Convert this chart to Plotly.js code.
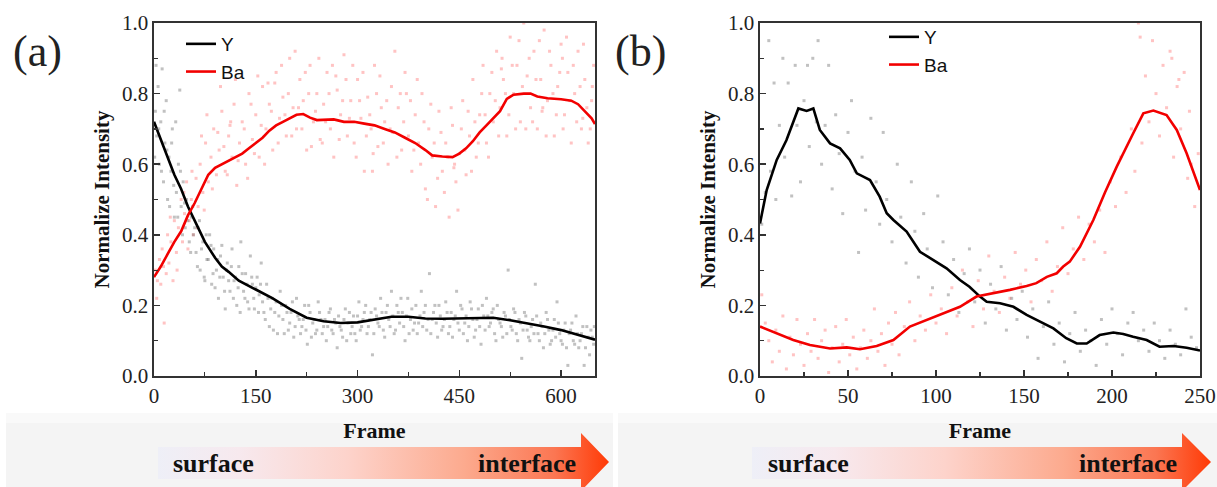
<!DOCTYPE html>
<html>
<head>
<meta charset="utf-8">
<script src="https://cdn.plot.ly/plotly-3.0.1.min.js"></script>
<style>html,body{margin:0;padding:0;background:#fff;}#chart{width:1217px;height:487px;}</style>
</head>
<body>
<div id="chart"></div>
<script>
// ---------- Panel (a) smoothed lines ----------
const aYx = [0,10,20,30,40,50,60,75,90,100,110,125,150,175,200,225,250,275,300,325,350,375,400,425,450,475,500,525,550,575,600,625,650];
const aYy = [0.72,0.67,0.62,0.57,0.53,0.48,0.44,0.38,0.335,0.31,0.295,0.27,0.245,0.22,0.19,0.165,0.155,0.15,0.152,0.16,0.168,0.168,0.163,0.162,0.163,0.165,0.165,0.158,0.15,0.14,0.13,0.117,0.103];
const aBax = [0,10,20,30,40,50,60,70,80,90,100,110,120,130,140,150,160,170,180,190,200,210,220,230,240,250,265,280,295,310,325,340,355,370,385,400,410,425,440,450,460,470,480,490,500,510,520,530,545,555,565,580,600,615,625,635,645,650];
const aBay = [0.28,0.31,0.345,0.38,0.41,0.455,0.49,0.53,0.57,0.59,0.60,0.61,0.62,0.63,0.645,0.66,0.675,0.695,0.71,0.72,0.73,0.74,0.742,0.732,0.725,0.725,0.727,0.72,0.72,0.715,0.71,0.70,0.69,0.675,0.66,0.64,0.625,0.622,0.62,0.63,0.645,0.665,0.69,0.71,0.73,0.75,0.785,0.797,0.80,0.80,0.792,0.787,0.784,0.78,0.77,0.75,0.73,0.714];

// ---------- Panel (a) raw points ----------
const aRawBaX = [2,5,8,10,12,15,18,20,22,25,28,30,33,36,40,42,45,48,52,55,58,62,65,68,72,76,80,84,88,92,96,100,105,110,115,118,122,126,130,135,140,145,150,155,160,165,170,175,180,185,190,195,200,205,210,215,220,225,230,235,240,245,250,255,260,265,270,275,280,285,290,295,300,305,310,315,320,325,330,335,340,345,350,355,360,365,370,375,380,385,390,395,400,405,410,415,420,425,430,435,440,445,450,455,460,465,470,475,480,485,490,495,500,505,510,515,520,525,530,535,540,545,550,555,560,565,570,575,580,585,590,595,600,605,610,615,620,625,630,635,640,645,648,112,178,232,268,322,352,372,442,478,512,548,572,602,632];
const aRawBaY = [0.30,0.27,0.33,0.26,0.36,0.15,0.29,0.40,0.32,0.38,0.27,0.44,0.35,0.42,0.50,0.38,0.46,0.55,0.44,0.50,0.40,0.56,0.48,0.60,0.52,0.66,0.55,0.62,0.70,0.57,0.64,0.75,0.58,0.68,0.62,0.77,0.54,0.66,0.72,0.60,0.80,0.67,0.74,0.62,0.82,0.70,0.77,0.64,0.86,0.73,0.79,0.68,0.90,0.76,0.70,0.84,0.78,0.64,0.88,0.72,0.80,0.67,0.77,0.86,0.70,0.62,0.81,0.74,0.91,0.68,0.78,0.66,0.84,0.73,0.58,0.79,0.70,0.88,0.65,0.76,0.72,0.60,0.82,0.92,0.76,0.64,0.86,0.68,0.58,0.74,0.66,0.80,0.53,0.70,0.62,0.48,0.75,0.58,0.66,0.45,0.71,0.55,0.63,0.78,0.57,0.68,0.84,0.62,0.74,0.88,0.66,0.80,0.72,0.92,0.76,0.84,0.68,0.96,0.80,0.88,0.72,1.0,0.85,0.76,0.92,0.70,0.84,0.98,0.78,0.88,0.68,0.82,0.94,0.74,0.86,0.66,0.80,0.92,0.70,0.84,0.66,0.78,0.88,0.71,0.83,0.65,0.85,0.58,0.69,0.80,0.59,0.66,0.87,0.70,0.75,0.90,0.73];
const aRawBaX2 = [4,14,24,34,44,50,56,64,70,74,78,86,94,98,103,108,113,120,124,133,138,143,148,153,158,163,168,173,183,188,193,198,203,208,213,218,223,228,238,243,248,253,258,263,273,278,283,288,293,298,303,308,313,318,323,328,333,338,343,348,358,363,368,378,383,388,393,398,403,408,413,418,423,428,433,438,443,448,453,458,463,468,473,483,488,493,498,503,508,513,518,523,528,533,538,543,553,558,563,568,573,578,583,588,593,598,603,608,613,618,623,628,633,638,643,646];
const aRawBaY2 = [0.22,0.31,0.45,0.30,0.52,0.36,0.58,0.42,0.68,0.47,0.74,0.53,0.69,0.82,0.65,0.57,0.72,0.84,0.61,0.70,0.56,0.77,0.63,0.85,0.71,0.60,0.83,0.75,0.66,0.88,0.74,0.80,0.68,0.92,0.76,0.70,0.86,0.80,0.75,0.90,0.66,0.72,0.80,0.88,0.67,0.78,0.84,0.73,0.88,0.62,0.78,0.86,0.68,0.74,0.63,0.80,0.85,0.66,0.78,0.70,0.62,0.80,0.72,0.78,0.64,0.84,0.60,0.72,0.50,0.77,0.66,0.56,0.69,0.52,0.62,0.76,0.60,0.47,0.70,0.64,0.75,0.58,0.72,0.80,0.74,0.62,0.86,0.78,0.68,0.90,0.80,0.74,0.88,0.70,0.95,0.82,0.90,0.72,0.84,0.95,0.76,0.68,0.92,0.80,0.74,0.86,0.70,0.96,0.78,0.88,0.72,0.82,0.94,0.76,0.70,0.82];
const aRawYX = [2,4,6,8,10,12,14,16,18,20,22,25,27,30,33,36,38,40,43,46,48,52,55,58,62,65,68,72,75,78,82,85,88,92,95,98,102,105,108,112,115,118,122,125,128,132,135,138,142,145,148,152,155,158,162,166,170,174,178,182,186,190,194,198,202,206,210,214,218,222,226,230,234,238,242,246,250,254,258,262,266,270,274,278,282,286,290,294,298,302,306,310,314,318,322,326,330,334,338,342,346,350,354,358,362,366,370,374,378,382,386,390,394,398,402,406,410,414,418,422,426,430,434,438,442,446,450,454,458,462,466,470,474,478,482,486,490,494,498,502,506,510,514,518,522,526,530,534,538,542,546,550,554,558,562,566,570,574,578,582,586,590,594,598,602,606,610,614,618,622,626,630,634,638,642,646,649];
const aRawYY = [0.75,0.68,0.82,0.60,0.72,0.87,0.55,0.66,0.78,0.50,0.62,0.58,0.70,0.45,0.52,0.60,0.81,0.48,0.55,0.42,0.50,0.38,0.45,0.40,0.35,0.42,0.30,0.38,0.27,0.33,0.40,0.26,0.36,0.30,0.22,0.34,0.28,0.19,0.32,0.24,0.36,0.27,0.20,0.31,0.38,0.24,0.29,0.21,0.34,0.26,0.19,0.28,0.23,0.32,0.18,0.26,0.14,0.22,0.18,0.12,0.24,0.16,0.20,0.13,0.18,0.11,0.22,0.16,0.14,0.20,0.09,0.18,0.15,0.12,0.21,0.16,0.14,0.10,0.18,0.13,0.16,0.08,0.14,0.11,0.19,0.15,0.12,0.17,0.10,0.21,0.14,0.18,0.12,0.16,0.06,0.19,0.15,0.22,0.13,0.18,0.16,0.24,0.12,0.20,0.15,0.18,0.10,0.22,0.16,0.13,0.20,0.15,0.24,0.18,0.13,0.29,0.16,0.20,0.11,0.17,0.14,0.21,0.12,0.18,0.16,0.24,0.13,0.19,0.15,0.10,0.21,0.16,0.13,0.19,0.09,0.17,0.22,0.14,0.18,0.12,0.20,0.15,0.11,0.17,0.30,0.14,0.19,0.12,0.16,0.05,0.18,0.13,0.10,0.16,0.26,0.12,0.15,0.08,0.18,0.13,0.10,0.16,0.21,0.12,0.09,0.15,0.03,0.13,0.10,0.17,0.08,0.12,0.03,0.14,0.06,0.11,0.14];
const aRawYX2 = [1,3,7,11,15,19,23,26,29,32,35,39,42,45,50,54,57,60,64,67,70,74,77,80,84,87,90,94,97,100,104,107,110,114,117,120,124,127,130,134,137,140,144,147,150,154,157,160,164,168,172,176,180,184,188,192,196,200,204,208,212,216,220,224,228,232,236,240,244,248,252,256,260,264,268,272,276,280,284,288,292,296,300,304,308,312,316,320,324,328,332,336,340,344,348,352,356,360,364,368,372,376,380,384,388,392,396,400,404,408,412,416,420,424,428,432,436,440,444,448,452,456,460,464,468,472,476,480,484,488,492,496,500,504,508,512,516,520,524,528,532,536,540,544,548,552,556,560,564,568,572,576,580,584,588,592,596,600,604,608,612,616,620,624,628,632,636,640,644,648];
const aRawYY2 = [0.62,0.88,0.70,0.58,0.75,0.64,0.48,0.66,0.54,0.72,0.45,0.58,0.40,0.49,0.44,0.35,0.48,0.42,0.31,0.44,0.36,0.28,0.40,0.33,0.37,0.29,0.25,0.33,0.28,0.37,0.24,0.30,0.27,0.31,0.22,0.28,0.25,0.18,0.29,0.22,0.26,0.19,0.28,0.22,0.25,0.18,0.26,0.21,0.16,0.22,0.19,0.13,0.21,0.17,0.20,0.12,0.18,0.15,0.21,0.14,0.17,0.12,0.16,0.13,0.20,0.11,0.16,0.13,0.18,0.12,0.16,0.14,0.19,0.12,0.15,0.17,0.13,0.16,0.10,0.18,0.14,0.12,0.17,0.13,0.16,0.20,0.14,0.18,0.12,0.17,0.14,0.18,0.11,0.20,0.14,0.17,0.13,0.18,0.22,0.14,0.17,0.12,0.19,0.15,0.12,0.17,0.14,0.20,0.16,0.12,0.18,0.15,0.20,0.13,0.16,0.18,0.14,0.11,0.17,0.15,0.20,0.12,0.17,0.14,0.19,0.11,0.16,0.14,0.20,0.13,0.17,0.15,0.19,0.10,0.16,0.14,0.18,0.12,0.16,0.13,0.18,0.10,0.15,0.13,0.17,0.11,0.14,0.12,0.17,0.10,0.14,0.12,0.16,0.09,0.13,0.11,0.15,0.10,0.13,0.08,0.12,0.15,0.09,0.12,0.10,0.14,0.08,0.11,0.13,0.09];

// ---------- Panel (b) smoothed lines ----------
const bYx = [0,3.8,9.5,15,21.8,26.5,30.3,34,39.8,45.5,51,55,58.7,62.5,68,72,75.8,83.3,90.9,98.5,106,113.6,119,125,128.8,136.4,144,151.5,159,166.7,174,180,185.6,193,200.8,206.4,212,219.7,227,235,242.4,250];
const bYy = [0.432,0.527,0.612,0.668,0.758,0.751,0.758,0.697,0.659,0.645,0.612,0.574,0.565,0.555,0.508,0.461,0.442,0.409,0.352,0.329,0.305,0.272,0.253,0.225,0.21,0.206,0.196,0.173,0.154,0.135,0.107,0.092,0.092,0.116,0.123,0.119,0.111,0.102,0.083,0.085,0.08,0.072];
const bBax = [0,9.5,18.9,28.4,39.8,49.3,56.8,66.3,75.8,85.2,94.7,104,113.6,123,132.6,142,151.5,157,163,168.6,172.3,176,181.8,189.4,196,202.7,212,217.8,223.5,231,236.8,242.4,250];
const bBay = [0.14,0.121,0.102,0.088,0.078,0.081,0.076,0.085,0.102,0.14,0.159,0.177,0.196,0.225,0.234,0.244,0.255,0.263,0.281,0.291,0.31,0.324,0.366,0.442,0.52,0.593,0.687,0.744,0.752,0.739,0.697,0.631,0.527];

// ---------- Panel (b) raw points ----------
const bRawYX = [1,3,5,6,8,9,11,13,14,16,18,20,21,23,25,27,28,30,32,33,35,37,39,41,43,45,47,50,52,54,56,58,60,63,66,68,70,72,75,78,80,83,86,88,90,93,95,98,101,104,107,110,113,116,119,122,125,128,131,134,137,140,143,146,149,152,155,158,161,164,167,170,173,176,179,182,185,188,191,194,197,200,203,206,209,212,215,218,221,224,227,230,233,236,239,242,245,248];
const bRawYY = [0.43,0.52,0.95,0.58,0.83,0.50,0.71,0.90,0.62,0.83,0.51,0.88,0.71,0.55,0.78,0.88,0.65,0.90,0.72,0.95,0.60,0.71,0.88,0.53,0.74,0.63,0.46,0.69,0.78,0.58,0.35,0.62,0.47,0.73,0.55,0.43,0.69,0.50,0.38,0.60,0.45,0.32,0.55,0.41,0.28,0.46,0.36,0.25,0.51,0.38,0.23,0.33,0.18,0.29,0.36,0.21,0.30,0.15,0.26,0.19,0.31,0.13,0.22,0.16,0.24,0.11,0.19,0.05,0.14,0.21,0.09,0.15,0.04,0.12,0.18,0.07,0.13,0.10,0.03,0.16,0.09,0.19,0.12,0.06,0.15,0.18,0.10,0.13,0.07,0.15,0.10,0.05,0.13,0.09,0.06,0.19,0.11,0.08];
const bRawBaX = [1,3,5,7,9,11,13,15,17,19,21,23,25,27,29,31,33,35,37,39,41,43,45,47,49,51,53,55,57,59,61,63,65,67,69,71,73,75,77,79,82,85,88,91,94,97,100,103,106,109,112,115,118,121,124,127,130,133,136,139,142,145,148,151,154,157,160,163,166,169,172,175,178,181,184,187,190,193,196,199,202,205,208,211,213,215,216,217,219,221,223,225,227,229,231,233,234,235,237,238,239,241,243,244,245,247,249];
const bRawBaY = [0.23,0.15,0.10,0.04,0.13,0.07,0.17,0.02,0.11,0.06,0.16,0.09,0.03,0.12,0.07,0.16,0.05,0.10,0.13,0.01,0.08,0.14,0.04,0.09,0.16,0.06,0.11,0.02,0.08,0.13,0.05,0.10,0.19,0.07,0.12,0.03,0.15,0.09,0.18,0.06,0.14,0.21,0.10,0.17,0.13,0.23,0.15,0.19,0.12,0.25,0.17,0.30,0.21,0.14,0.27,0.19,0.34,0.24,0.18,0.28,0.22,0.35,0.26,0.30,0.21,0.33,0.27,0.38,0.24,0.31,0.42,0.29,0.36,0.45,0.33,0.43,0.38,0.47,0.35,0.55,0.48,0.62,0.52,0.70,0.58,1.0,0.96,0.66,0.85,0.72,0.95,0.80,0.68,0.88,0.76,0.92,0.90,0.62,0.82,0.84,0.70,0.86,0.56,0.75,0.60,0.48,0.63];

const frameTicksA = [0,150,300,450,600];
const frameTicksB = [0,50,100,150,200,250];

const SERIF = 'Liberation Serif, Times New Roman, serif';
const SANS = 'Liberation Sans, Arial, sans-serif';
const RED = '#f20000';
const BLACK = '#000000';
const PINK_DOT = 'rgba(255,105,105,0.40)';
const GRAY_DOT = 'rgba(100,100,100,0.40)';

const traces = [
  {x:aRawBaX.concat(aRawBaX2), y:aRawBaY.concat(aRawBaY2), xaxis:'x', yaxis:'y', mode:'markers', type:'scatter', showlegend:false, hoverinfo:'skip',
   marker:{symbol:'square', size:3, color:PINK_DOT}},
  {x:aRawYX.concat(aRawYX2), y:aRawYY.concat(aRawYY2), xaxis:'x', yaxis:'y', mode:'markers', type:'scatter', showlegend:false, hoverinfo:'skip',
   marker:{symbol:'square', size:3, color:GRAY_DOT}},
  {x:aYx, y:aYy, xaxis:'x', yaxis:'y', mode:'lines', type:'scatter', name:'Y', legend:'legend',
   line:{color:BLACK, width:2.6}},
  {x:aBax, y:aBay, xaxis:'x', yaxis:'y', mode:'lines', type:'scatter', name:'Ba', legend:'legend',
   line:{color:RED, width:2.6}},
  {x:bRawBaX, y:bRawBaY, xaxis:'x2', yaxis:'y2', mode:'markers', type:'scatter', showlegend:false, hoverinfo:'skip',
   marker:{symbol:'square', size:3, color:PINK_DOT}},
  {x:bRawYX, y:bRawYY, xaxis:'x2', yaxis:'y2', mode:'markers', type:'scatter', showlegend:false, hoverinfo:'skip',
   marker:{symbol:'square', size:3, color:GRAY_DOT}},
  {x:bYx, y:bYy, xaxis:'x2', yaxis:'y2', mode:'lines', type:'scatter', name:'Y', legend:'legend2',
   line:{color:BLACK, width:2.6}},
  {x:bBax, y:bBay, xaxis:'x2', yaxis:'y2', mode:'lines', type:'scatter', name:'Ba', legend:'legend2',
   line:{color:RED, width:2.6}}
];

const W = 1217, H = 487;
const px = v => v / W;
const py = v => (H - v) / H;

function xAxis(domain, range, ticks, minorD) {
  return {
    domain: domain, range: range, tickvals: ticks, ticktext: ticks.map(String),
    ticks:'inside', ticklen:6, tickwidth:1.5, tickcolor:'#333',
    minor:{dtick:minorD, ticks:'inside', ticklen:4, tickwidth:1.2, tickcolor:'#333'},
    showline:true, mirror:true, linecolor:'#333', linewidth:1.6, showgrid:false, zeroline:false,
    tickfont:{family:SERIF, size:21, color:'#222'},
    title:{text:'Frame', font:{family:SERIF, size:22, color:'#111', weight:'bold'}, standoff:16},
    fixedrange:true
  };
}
function yAxis(anchor) {
  return {
    domain:[py(376), py(23)], range:[0,1], anchor:anchor, dtick:0.2, tick0:0, tickformat:'.1f',
    ticks:'inside', ticklen:6, tickwidth:1.5, tickcolor:'#333',
    minor:{dtick:0.1, ticks:'inside', ticklen:4, tickwidth:1.2, tickcolor:'#333'},
    showline:true, mirror:true, linecolor:'#333', linewidth:1.6, showgrid:false, zeroline:false,
    tickfont:{family:SERIF, size:21, color:'#222'},
    title:{text:'Normalize Intensity', font:{family:SERIF, size:21, color:'#111', weight:'bold'}, standoff:6},
    fixedrange:true
  };
}

// Bottom bands with gradient arrows (decoration)
function arrowPath(x0, xh, xt, yb0, yb1, yh0, yh1, yt) {
  return `M${x0},${yb0} L${xh},${yb0} L${xh},${yh0} L${xt},${yt} L${xh},${yh1} L${xh},${yb1} L${x0},${yb1} Z`;
}
const y0 = 405;
const svg = `<svg xmlns="http://www.w3.org/2000/svg" width="1217" height="82" viewBox="0 0 1217 82">
<defs>
<linearGradient id="g" x1="0" y1="0" x2="1" y2="0">
<stop offset="0" stop-color="#eeeff7"/>
<stop offset="0.18" stop-color="#f7e9ee"/>
<stop offset="0.42" stop-color="#fdd3cb"/>
<stop offset="0.68" stop-color="#fcaa8e"/>
<stop offset="0.88" stop-color="#fb7652"/>
<stop offset="1" stop-color="#ff3a06"/>
</linearGradient>
</defs>
<rect x="6" y="8" width="607" height="74" fill="#f4f4f4"/>
<rect x="6" y="8" width="607" height="10" fill="#f9f9f9"/>
<rect x="618" y="8" width="599" height="74" fill="#f4f4f4"/>
<rect x="618" y="8" width="599" height="10" fill="#f9f9f9"/>
<path d="${arrowPath(158,581,609,447-y0,479-y0,433-y0,491-y0,462-y0)}" fill="url(#g)"/>
<path d="${arrowPath(752,1182,1211,447-y0,479-y0,433-y0,491-y0,462-y0)}" fill="url(#g)"/>
</svg>`;
const svgURI = 'data:image/svg+xml;charset=utf-8,' + encodeURIComponent(svg);

const annoFont = {family:SERIF, size:26, color:'#111', weight:'bold'};
const layout = {
  width:W, height:H, margin:{l:0,r:0,t:0,b:0},
  paper_bgcolor:'#ffffff', plot_bgcolor:'#ffffff',
  xaxis: Object.assign(xAxis([px(154), px(595)], [0,650], frameTicksA, 75), {anchor:'y'}),
  yaxis: yAxis('x'),
  xaxis2: Object.assign(xAxis([px(760), px(1200)], [0,250], frameTicksB, 25), {anchor:'y2'}),
  yaxis2: yAxis('x2'),
  legend:{x:px(181), y:py(25), xanchor:'left', yanchor:'top', bgcolor:'rgba(0,0,0,0)',
          font:{family:SANS, size:19, color:'#111'}, tracegroupgap:0},
  legend2:{x:px(884), y:py(18), xanchor:'left', yanchor:'top', bgcolor:'rgba(0,0,0,0)',
          font:{family:SANS, size:19, color:'#111'}, tracegroupgap:0},
  images:[{source:svgURI, xref:'paper', yref:'paper', x:0, y:py(405), sizex:1, sizey:82/H,
           xanchor:'left', yanchor:'top', sizing:'stretch', layer:'above'}],
  annotations:[
    {text:'(a)', xref:'paper', yref:'paper', x:px(37), y:py(51), xanchor:'center', yanchor:'middle', showarrow:false,
     font:{family:SERIF, size:44, color:'#222'}},
    {text:'(b)', xref:'paper', yref:'paper', x:px(640), y:py(51), xanchor:'center', yanchor:'middle', showarrow:false,
     font:{family:SERIF, size:44, color:'#222'}},
    {text:'surface', xref:'paper', yref:'paper', x:px(171), y:py(463), xanchor:'left', yanchor:'middle', showarrow:false, font:annoFont},
    {text:'interface', xref:'paper', yref:'paper', x:px(578), y:py(463), xanchor:'right', yanchor:'middle', showarrow:false, font:annoFont},
    {text:'surface', xref:'paper', yref:'paper', x:px(766), y:py(463), xanchor:'left', yanchor:'middle', showarrow:false, font:annoFont},
    {text:'interface', xref:'paper', yref:'paper', x:px(1179), y:py(463), xanchor:'right', yanchor:'middle', showarrow:false, font:annoFont}
  ]
};

Plotly.newPlot('chart', traces, layout, {staticPlot:true, displayModeBar:false});
</script>
</body>
</html>
